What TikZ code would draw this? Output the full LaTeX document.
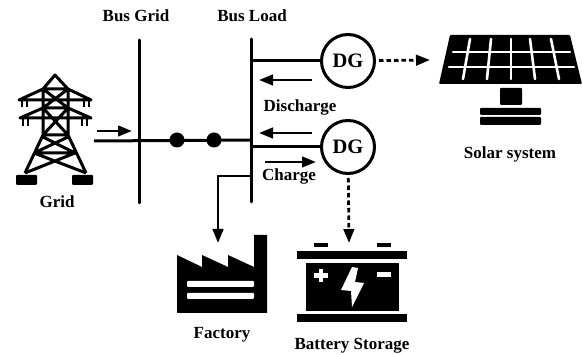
\documentclass[tikz,border=0pt]{standalone}
\usepackage{fontspec}
\setmainfont{Liberation Serif}
\usetikzlibrary{arrows.meta}
\tikzset{
         lbl/.style={font=\fontsize{17}{20}\selectfont\bfseries,inner sep=0pt},
         dg/.style={draw,circle,line width=3pt,minimum size=53pt,inner sep=0pt,font=\fontsize{20.5}{24}\selectfont\bfseries},
         wire/.style={line width=3pt},
         flow/.style={line width=2.8pt,-{Triangle[length=14pt,width=10.5pt]},shorten >=-1pt},
         dashflow/.style={flow,dash pattern=on 4.5pt off 3pt,shorten <=3pt},
         whitebar/.style={white,line width=2.6pt,line cap=round}
        }
\begin{document}
\begin{tikzpicture}[x=1pt,y=-1pt]
\useasboundingbox(0,0)rectangle(582,355);
%labels
\node[lbl](busgridlbl)at(136,16){Bus Grid};
\node[lbl](busloadlbl)at(252,16){Bus Load};
\node[lbl](gridlbl)at(57,202){Grid};
\node[lbl](dischargelbl)at(300,107){Discharge};
\node[lbl](chargelbl)at(289,176){Charge};
\node[lbl](solarlbl)at(510,154){Solar system};
\node[lbl](factorylbl)at(222,335){Factory};
\node[lbl](batterylbl)at(352,346){Battery Storage};
%buses
\coordinate(gridtop)at(139,40);
\coordinate(gridbot)at(139,203);
\coordinate(loadtop)at(251,39);
\coordinate(loadbot)at(251,202);
\draw[wire,line cap=round](gridtop)--(gridbot);
\draw[wire,line cap=round](loadtop)--(loadbot);
%generators
\node[dg](dgtop)at(348,61){DG};
\node[dg](dgbot)at(348,147){DG};
\coordinate(tapa)at(251,61);
\coordinate(tapb)at(251,147);
\coordinate(tapc)at(251,176);
\coordinate(tapd)at(218,176);
\coordinate(factorytip)at(218,242);
\draw[wire](tapa)--(dgtop);
\draw[wire](tapb)--(dgbot);
\draw[flow](tapc)--(tapd)--(factorytip);
%main line with breakers
\coordinate(linestart)at(94,141);
\coordinate(lineend)at(251,140);
\draw[wire](linestart)--(lineend);
\node[fill,circle,minimum size=15pt,inner sep=0pt](brka)at(177,140){};
\node[fill,circle,minimum size=15pt,inner sep=0pt](brkb)at(214,140){};
%power flow arrows
\coordinate(gas)at(97,131);
\coordinate(gae)at(131,131);
\coordinate(das)at(312,80);
\coordinate(dae)at(260,80);
\coordinate(dbs)at(312,133);
\coordinate(dbe)at(260,133);
\coordinate(cas)at(265,162);
\coordinate(cae)at(315,162);
\draw[flow](gas)--(gae);
\draw[flow](das)--(dae);
\draw[flow](dbs)--(dbe);
\draw[flow](cas)--(cae);
%dashed links
\coordinate(solartip)at(429,60);
\coordinate(batterytip)at(349,242);
\draw[dashflow](dgtop)--(solartip);
\draw[dashflow](dgbot)--(batterytip);
%tower
\draw[line width=3pt,line join=round]
  (25,173)--(43,135)--(43,89)--(55,75)--(68,89)--(68,135)--(86,173)
  (43,89)--(68,89)(43,108)--(68,108)(43,135)--(68,135)
  (43,89)--(68,108)(68,89)--(43,108)(43,108)--(68,135)(68,108)--(43,135)
  (43,89)--(19,100)--(91,100)--(68,89)
  (43,108)--(20,118)--(91,118)--(68,108)
  (43,137)--(75,153)(68,137)--(34,153)(34,153)--(75,153)
  (34,153)--(86,173)(75,153)--(25,173);
\draw[line width=2.4pt]
  (22,100)--(22,107)(27,100)--(27,107)(84,100)--(84,107)(89,100)--(89,107)
  (23,118)--(23,126)(28,118)--(28,126)(82,118)--(82,126)(87,118)--(87,126);
\fill[rounded corners=1pt](16,175)rectangle(37,185);
\fill[rounded corners=1pt](72,175)rectangle(93,185);
%solar panel
\fill[rounded corners=1pt](450,35)--(570,35)--(582,84)--(439,84)--cycle;
\draw[whitebar](453,52)--(570,52);
\draw[whitebar](449,67)--(574,67);
\draw[whitebar](470,39)--(463,79);
\draw[whitebar](491,39)--(487,79);
\draw[whitebar](511,39)--(511,79);
\draw[whitebar](530,39)--(535,79);
\draw[whitebar](551,39)--(559,79);
\fill[rounded corners=1pt](500,88)rectangle(522,105);
\fill[rounded corners=1pt](480,108)rectangle(541,115);
\fill[rounded corners=1pt](480,117)rectangle(541,125);
%factory
\fill(177,255)--(202,267)--(202,255)--(228,267)--(228,255)--(254,267)--(254,235)--(267,235)--(267,313)--(177,313)--cycle;
\fill[white,rounded corners=1pt](187,281)rectangle(254,287);
\fill[white,rounded corners=1pt](187,293)rectangle(254,299);
%battery
\fill(314,243)rectangle(328,247);
\fill(377,243)rectangle(391,247);
\fill(297,251)rectangle(407,259);
\fill(306,263)rectangle(399,311);
\fill(297,314)rectangle(407,322);
\fill[white](319,269)rectangle(323,282);
\fill[white](314,273)rectangle(328,278);
\fill[white](377,272)rectangle(391,277);
\fill[white](352,267)--(341,290)--(351,291)--(352,307)--(364,283)--(355,282)--(358,268)--cycle;
\end{tikzpicture}
\end{document}
